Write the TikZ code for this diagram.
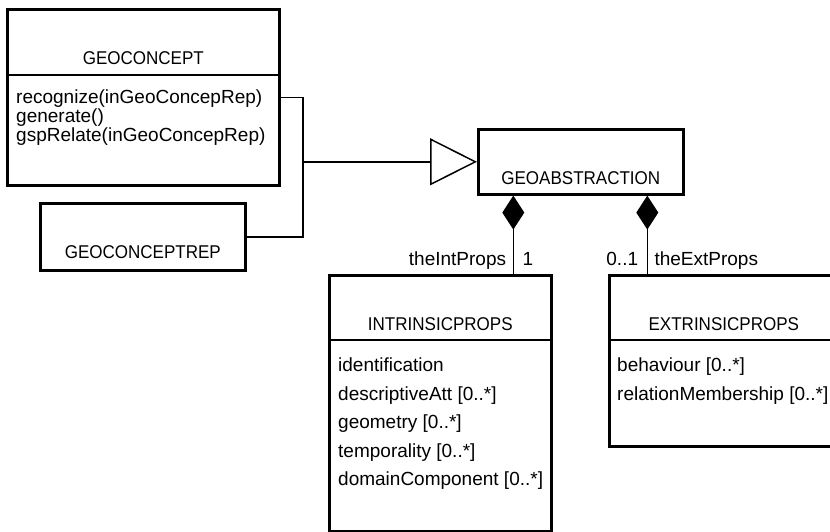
\documentclass[tikz,border=0pt]{standalone}
\usepackage{fontspec}
\setmainfont{Liberation Sans}
\newfontfamily\namefont[FakeStretch=0.92]{Liberation Sans}
\usetikzlibrary{arrows.meta}

\tikzset{
  classbox/.style={draw, line width=2.6pt, anchor=north west, inner sep=0pt},
  classname/.style={anchor=base, inner sep=0pt, font=\namefont\fontsize{18.5}{18.5}\selectfont},
  attr/.style={anchor=base west, inner sep=0pt, font=\fontsize{19}{19}\selectfont},
  role/.style={inner sep=0pt, font=\fontsize{19}{19}\selectfont},
  sep/.style={line width=2.6pt},
  link/.style={line width=1.5pt},
}

\begin{document}
\begin{tikzpicture}[x=1pt,y=-1pt]
  \useasboundingbox (0,0) rectangle (830,532);
  \clip (0,0) rectangle (830,532);
  % Classes
  \node[classbox, minimum width=272pt, minimum height=176pt] (concept) at (6,8) {};
  \draw[sep] (concept.west |- 0,75) -- (concept.east |- 0,75);
  \node[classname] (conceptname) at (concept.north |- 0,64.5) {GEOCONCEPT};
  \node[attr] (recognize) at (16,104) {recognize(inGeoConcepRep)};
  \node[attr] (generate) at (16,123) {generate()};
  \node[attr] (gsprelate) at (16,142) {gspRelate(inGeoConcepRep)};

  \node[classbox, minimum width=205pt, minimum height=67pt] (rep) at (39,202) {};
  \node[classname] (repname) at (rep.north |- 0,258) {GEOCONCEPTREP};

  \node[classbox, minimum width=205pt, minimum height=65pt] (abstr) at (477,128) {};
  \node[classname] (abstrname) at (abstr.north |- 0,184) {GEOABSTRACTION};

  \node[classbox, minimum width=222pt, minimum height=256pt] (intr) at (328,274) {};
  \draw[sep] (intr.west |- 0,340) -- (intr.east |- 0,340);
  \node[classname] (intrname) at (intr.north |- 0,330) {INTRINSICPROPS};
  \foreach \txt [count=\i from 0] in {{identification}, {descriptiveAtt [0..*]},
      {geometry [0..*]}, {temporality [0..*]}, {domainComponent [0..*]}}
    \node[attr] (intattr\i) at (338,{371.5+28.5*\i}) {\txt};

  \node[classbox, minimum width=229pt, minimum height=171pt] (extr) at (608,274) {};
  \draw[sep] (extr.west |- 0,340) -- (extr.east |- 0,340);
  \node[classname] (extrname) at (extr.north |- 0,330) {EXTRINSICPROPS};
  \node[attr] (behaviour) at (617,371.5) {behaviour [0..*]};
  \node[attr] (membership) at (617,400) {relationMembership [0..*]};

  % Generalization
  \coordinate (join) at (abstr.west -| 303,0);
  \draw[link] (concept.east) -| (join) |- (rep.east);
  \draw[link, -{Triangle[open, length=47pt, width=47pt]}] (join) -- (abstr.west);

  % Compositions
  \coordinate (intport) at ([xshift=-67.5pt]abstr.south);
  \coordinate (extport) at ([xshift=66.5pt]abstr.south);
  \draw[link, -{Diamond[length=34pt, width=22pt]}] (intr.north -| intport) -- (intport);
  \draw[link, -{Diamond[length=34pt, width=22pt]}] (extr.north -| extport) -- (extport);
  \coordinate (intlabel) at (intport |- 0,265);
  \coordinate (extlabel) at (extport |- 0,265);
  \node[role, anchor=base east, xshift=-7pt] (introle) at (intlabel) {theIntProps};
  \node[role, anchor=base west, xshift=9pt] (intmult) at (intlabel) {1};
  \node[role, anchor=base east, xshift=-9pt] (extmult) at (extlabel) {0..1};
  \node[role, anchor=base west, xshift=7pt] (extrole) at (extlabel) {theExtProps};
\end{tikzpicture}
\end{document}
